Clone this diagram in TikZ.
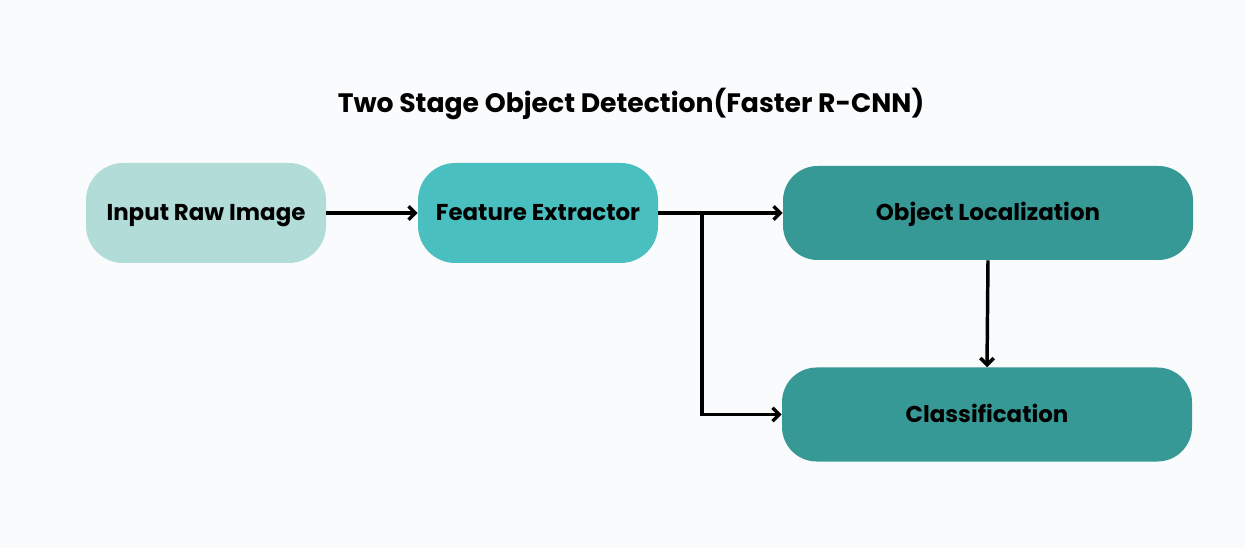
\documentclass[tikz,border=0pt]{standalone}
\usepackage{fontspec}
\setmainfont{Poppins}
\definecolor{cfond}{HTML}{F9FBFC}
\definecolor{cpale}{HTML}{B2DCD8}
\definecolor{cmoyen}{HTML}{4ABFBF}
\definecolor{cfonce}{HTML}{379996}
\usetikzlibrary{arrows.meta,positioning}

\begin{document}
\begin{tikzpicture}[x=0.75pt, y=-0.75pt, >={Straight Barb[length=5pt,width=10pt]}] % one unit = one pixel
  \tikzstyle{bloc}=[draw=none, rounded corners=28pt, minimum width=180pt, minimum height=75pt, inner sep=2pt, text=black, text height=12pt, text depth=0pt, font=\fontsize{17.2}{20}\selectfont\bfseries]
  \tikzstyle{grand bloc}=[bloc, rounded corners=26pt, minimum width=307.5pt, minimum height=70.5pt]
  \tikzstyle{fleche}=[->, draw=black, line width=2.6pt]

  \useasboundingbox[fill=cfond] (0,0) rectangle (1245,548);

  \node[text height=14pt, text depth=0pt, font=\fontsize{20}{24}\selectfont\bfseries] (TITRE) at (631,103) {Two Stage Object Detection(Faster R-CNN)};

  \node[bloc, fill=cpale]        (ENTREE) at (206,213)   {Input Raw Image};
  \node[bloc, fill=cmoyen]       (EXTRA)  at (538,213)   {Feature Extractor};
  \node[grand bloc, fill=cfonce] (LOCAL)  at (988,213)   {Object Localization};
  \node[grand bloc, fill=cfonce] (CLASSE) at (987,414.5) {Classification};

  \coordinate (BRANCHE) at (702,213);

  \path
	(ENTREE) edge[fleche] (EXTRA)
	(EXTRA)  edge[fleche] (LOCAL)
	(LOCAL.south) edge[fleche] (CLASSE.north)
  ;
  \draw[fleche] (BRANCHE) |- (CLASSE.west);

\end{tikzpicture}
\end{document}
